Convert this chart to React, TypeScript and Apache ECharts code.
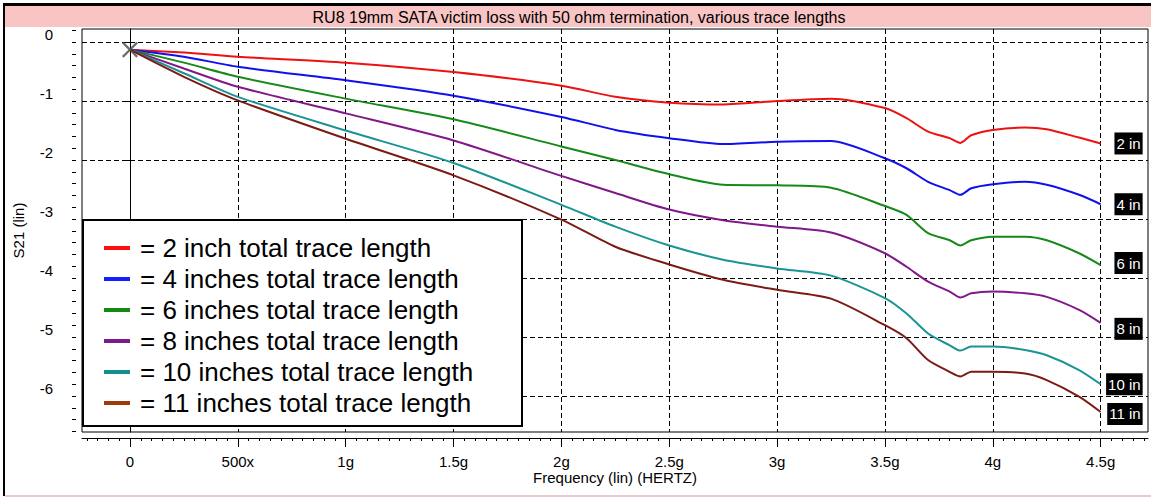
import React, { useEffect, useRef } from "react";
import * as echarts from "echarts";

const TITLE = "RU8 19mm SATA victim loss with 50 ohm termination, various trace lengths";
const X_AXIS_NAME = "Frequency (lin) (HERTZ)";
const Y_AXIS_NAME = "S21 (lin)";

// frequency in GHz
const freqGHz = [0, 0.25, 0.5, 1, 1.5, 2, 2.25, 2.5, 2.75, 3, 3.25, 3.5, 3.6, 3.7, 3.8, 3.85, 3.9, 4, 4.15, 4.25, 4.4, 4.5];

const s21_2in = [-0.13, -0.18, -0.25, -0.35, -0.51, -0.74, -0.93, -1.03, -1.06, -1.0, -0.96, -1.12, -1.29, -1.52, -1.63, -1.71, -1.58, -1.49, -1.45, -1.48, -1.62, -1.72];
const s21_4in = [-0.13, -0.25, -0.42, -0.65, -0.91, -1.27, -1.49, -1.63, -1.73, -1.69, -1.68, -1.97, -2.14, -2.37, -2.51, -2.59, -2.48, -2.41, -2.37, -2.42, -2.59, -2.75];
const s21_6in = [-0.13, -0.35, -0.59, -0.96, -1.31, -1.77, -2.0, -2.24, -2.42, -2.43, -2.47, -2.78, -2.93, -3.24, -3.36, -3.45, -3.36, -3.3, -3.3, -3.36, -3.58, -3.78];
const s21_8in = [-0.13, -0.45, -0.76, -1.21, -1.67, -2.27, -2.56, -2.84, -3.02, -3.13, -3.23, -3.58, -3.81, -4.06, -4.23, -4.33, -4.26, -4.23, -4.26, -4.32, -4.54, -4.76];
const s21_10in = [-0.13, -0.53, -0.93, -1.5, -2.05, -2.76, -3.13, -3.45, -3.69, -3.84, -3.96, -4.34, -4.6, -4.94, -5.14, -5.23, -5.16, -5.16, -5.22, -5.31, -5.56, -5.8];
const s21_11in = [-0.13, -0.59, -0.99, -1.64, -2.26, -3.01, -3.47, -3.77, -4.03, -4.2, -4.35, -4.8, -5.02, -5.39, -5.59, -5.67, -5.59, -5.59, -5.62, -5.73, -6.01, -6.27];

const seriesValues = [s21_2in, s21_4in, s21_6in, s21_8in, s21_10in, s21_11in];
const legendTexts = [
  "= 2 inch total trace length",
  "= 4 inches total trace length",
  "= 6 inches total trace length",
  "= 8 inches total trace length",
  "= 10 inches total trace length",
  "= 11 inches total trace length",
];
const endLabels = ["2 in", "4 in", "6 in", "8 in", "10 in", "11 in"];
const lineColors = ["#ee1111", "#1010ee", "#17881a", "#80188a", "#1a9494", "#7c1a14"];
const legendColors = ["#ff1010", "#1020ff", "#138a13", "#7e1a90", "#129090", "#a03a0c"];
const endLabelOffsets = [[0, 0], [0, 0], [0, -2], [0, 6], [0, 0], [0, 2]];

const xTickValues = [0, 0.5, 1, 1.5, 2, 2.5, 3, 3.5, 4, 4.5];
const xTickLabels = ["0", "500x", "1g", "1.5g", "2g", "2.5g", "3g", "3.5g", "4g", "4.5g"];
const yTickValues = [0, -1, -2, -3, -4, -5, -6];
const yTickLabels = ["0", "-1", "-2", "-3", "-4", "-5", "-6"];
const originMarker = [0, -0.13];

const X_MIN = -0.2225;
const X_MAX = 4.7196;
const Y_MIN = -6.61;
const Y_MAX = 0.22;

const xMinorTicks = Array.from({ length: 99 }, (_, i) => Math.round((-0.2 + i * 0.05) * 100) / 100);
const yMinorTicks = Array.from({ length: 35 }, (_, i) => Math.round((-6.6 + i * 0.2) * 10) / 10);

const FONT = "Liberation Sans, Arial, Helvetica, sans-serif";
const XSHAPE = "path://M1 0L5 4L9 0L10 1L6 5L10 9L9 10L5 6L1 10L0 9L4 5L0 1Z";

export default function App() {
  const ref = useRef<HTMLDivElement>(null);

  useEffect(() => {
    if (!ref.current) return;
    const chart = echarts.init(ref.current, null, { renderer: "svg" });

    const dashed = { color: "#000", width: 1, type: [5, 3] as any };

    const lineSeries = seriesValues.map((vals, i) => ({
      name: legendTexts[i],
      type: "line",
      xAxisIndex: 0,
      yAxisIndex: 0,
      data: freqGHz.map((f, j) => [f, vals[j]]),
      showSymbol: false,
      symbol: "none",
      smooth: 0.25,
      color: lineColors[i],
      lineStyle: { width: 2, color: lineColors[i] },
      z: 3,
      endLabel: {
        show: true,
        formatter: () => endLabels[i],
        color: "#fff",
        backgroundColor: "#000",
        fontSize: 15,
        fontFamily: FONT,
        padding: [4, 2, 3, 2],
        distance: 42,
        align: "right",
        offset: endLabelOffsets[i],
      },
    }));

    chart.setOption({
      animation: false,
      textStyle: { fontFamily: FONT },
      grid: [
        { left: 82, top: 29, width: 1066, height: 403, show: true, borderColor: "#000", borderWidth: 1, backgroundColor: "transparent" },
        { left: 82, top: 437, width: 1066, height: 1 },
      ],
      xAxis: [
        {
          type: "value",
          gridIndex: 0,
          min: X_MIN,
          max: X_MAX,
          axisLine: { show: false },
          axisTick: { show: false, customValues: xTickValues },
          axisLabel: { show: false, customValues: xTickValues },
          splitLine: { show: true, lineStyle: dashed },
        },
        {
          type: "value",
          gridIndex: 1,
          position: "bottom",
          min: X_MIN,
          max: X_MAX,
          axisLine: { show: true, lineStyle: { color: "#000", width: 1 } },
          axisTick: { show: true, length: 9, customValues: xTickValues, lineStyle: { color: "#000" } },
          axisLabel: {
            customValues: xTickValues,
            formatter: (v: number) => xTickLabels[xTickValues.indexOf(v)] ?? "",
            margin: 16,
            fontSize: 15,
            color: "#000",
            fontFamily: FONT,
          },
          splitLine: { show: false },
          name: X_AXIS_NAME,
          nameLocation: "middle",
          nameGap: 32,
          nameTextStyle: { fontSize: 15, color: "#000", fontFamily: FONT },
        },
        {
          type: "value",
          gridIndex: 1,
          position: "bottom",
          min: X_MIN,
          max: X_MAX,
          axisLine: { show: false },
          axisTick: { show: true, length: 3, customValues: xMinorTicks, lineStyle: { color: "#000" } },
          axisLabel: { show: false },
          splitLine: { show: false },
        },
      ],
      yAxis: [
        {
          type: "value",
          gridIndex: 0,
          position: "left",
          offset: 6,
          min: Y_MIN,
          max: Y_MAX,
          axisLine: { show: true, lineStyle: { color: "#000", width: 1 } },
          axisTick: { show: true, length: 8, customValues: yTickValues, lineStyle: { color: "#000" } },
          axisLabel: {
            customValues: yTickValues,
            formatter: (v: number) => yTickLabels[yTickValues.indexOf(v)] ?? "",
            margin: 23,
            fontSize: 15,
            color: "#000",
            verticalAlign: "bottom",
            fontFamily: FONT,
          },
          splitLine: { show: true, lineStyle: dashed },
          name: Y_AXIS_NAME,
          nameLocation: "middle",
          nameGap: 50,
          nameRotate: 90,
          nameTextStyle: { fontSize: 15, color: "#000", fontFamily: FONT },
        },
        {
          type: "value",
          gridIndex: 0,
          position: "left",
          offset: 6,
          min: Y_MIN,
          max: Y_MAX,
          axisLine: { show: false },
          axisTick: { show: true, length: 4, customValues: yMinorTicks, lineStyle: { color: "#000" } },
          axisLabel: { show: false },
          splitLine: { show: false },
        },
        { type: "value", gridIndex: 1, show: false, min: 0, max: 1 },
      ],
      legend: {
        show: true,
        orient: "vertical",
        left: 104,
        top: 235,
        padding: 0,
        itemGap: 5,
        itemWidth: 26,
        itemHeight: 4,
        icon: "rect",
        z: 20,
        textStyle: { fontSize: 26, color: "#000", fontFamily: FONT, lineHeight: 26, padding: [0, 0, 0, 5] },
        data: legendTexts.map((t, i) => ({ name: t, itemStyle: { color: legendColors[i] } })),
      },
      graphic: [
        { type: "rect", shape: { x: 4, y: 6, width: 1147, height: 21 }, style: { fill: "#f8c4c4" }, z: 1 },
        { type: "rect", shape: { x: 3, y: 3, width: 1148, height: 3 }, style: { fill: "#000" }, z: 1 },
        { type: "rect", shape: { x: 3, y: 3, width: 2, height: 493 }, style: { fill: "#000" }, z: 1 },
        { type: "rect", shape: { x: 5, y: 495, width: 1146, height: 2 }, style: { fill: "#e9c8cf" }, z: 1 },
        {
          type: "text",
          x: 579,
          y: 17,
          style: { text: TITLE, fontSize: 16, fill: "#000", fontFamily: FONT, textAlign: "center", textVerticalAlign: "middle" },
          z: 2,
        },
        {
          type: "rect",
          shape: { x: 83, y: 220, width: 439, height: 206 },
          style: { fill: "#fff", stroke: "#000", lineWidth: 2 },
          z: 10,
        },
      ],
      series: [
        ...lineSeries,
        {
          type: "scatter",
          xAxisIndex: 0,
          yAxisIndex: 0,
          data: [originMarker],
          symbol: XSHAPE,
          symbolSize: 16,
          itemStyle: { color: "#4d4545" },
          z: 6,
          silent: true,
        },
      ],
    });

    return () => chart.dispose();
  }, []);

  return (
    <div
      ref={ref}
      style={{ position: "fixed", left: 0, top: 0, width: 1151, height: 503, background: "#fff" }}
    />
  );
}
